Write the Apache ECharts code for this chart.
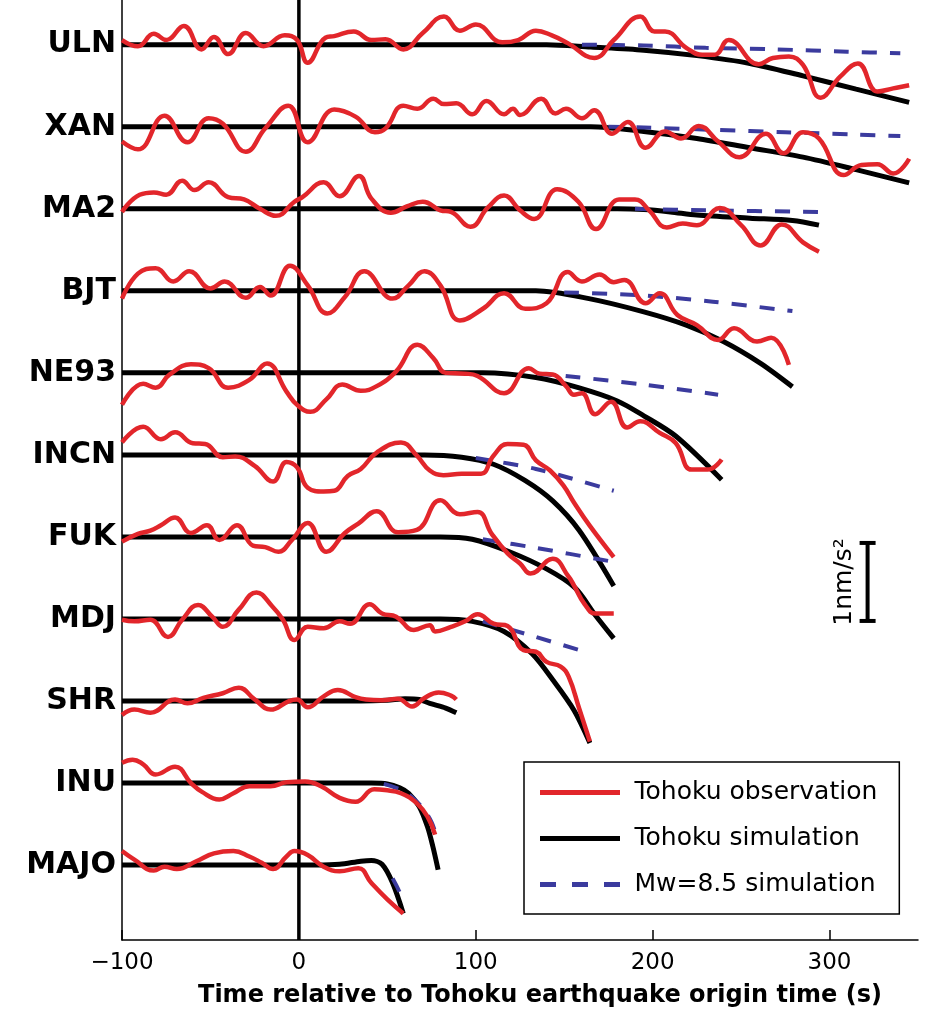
<!DOCTYPE html>
<html>
<head>
<meta charset="utf-8">
<script src="https://cdn.jsdelivr.net/npm/echarts@6/dist/echarts.min.js"></script>
<style>
  html, body { margin: 0; background: #fff; }
  #chart { width: 944px; height: 1016px; }
</style>
</head>
<body>
<div id="chart"></div>
<script>
// station order, top to bottom
const stations = ['ULN', 'XAN', 'MA2', 'BJT', 'NE93', 'INCN', 'FUK', 'MDJ', 'SHR', 'INU', 'MAJO']

// [time (s), acceleration (nm/s^2)] relative to each station's baseline
const ULN_obs = [[-100,0.06],[-91,-0.02],[-82,0.14],[-75,0.06],[-65,0.24],[-55,-0.06],[-48,0.1],[-40,-0.12],[-30,0.15],[-20,-0.02],[-8,0.12],[-1,0.06],[5,-0.23],[15,0.09],[20,0.11],[31,0.17],[41,0.06],[49,0.07],[59,-0.06],[70,0.15],[82,0.36],[91,0.18],[100,0.26],[115,0.03],[124,0.06],[134,0.18],[143,0.12],[152,0.02],[167,-0.17],[178,0.06],[193,0.36],[201,0.17],[207,0.17],[219,-0.04],[228,-0.13],[235,-0.13],[243,0.06],[260,-0.25],[268,-0.17],[277,-0.15],[285,-0.26],[295,-0.68],[306,-0.41],[316,-0.24],[327,-0.6],[336,-0.56],[345,-0.52]]
const ULN_sim = [[-100,0],[110,0],[140,0],[165,-0.03],[195,-0.07],[225,-0.14],[255,-0.24],[285,-0.4],[315,-0.57],[345,-0.74]]
const ULN_mw = [[160,0],[195,-0.01],[230,-0.04],[270,-0.06],[310,-0.09],[340,-0.11]]

const XAN_obs = [[-100,-0.19],[-91,-0.29],[-76,0.14],[-63,-0.2],[-51,0.11],[-43,0.04],[-30,-0.32],[-19,-0.02],[-6,0.27],[5,-0.2],[20,0.22],[32,0.13],[43,-0.07],[49,-0.02],[59,0.27],[67,0.23],[76,0.36],[82,0.29],[89,0.3],[98,0.16],[106,0.33],[116,0.16],[121,0.23],[125,0.15],[137,0.36],[145,0.17],[151,0.23],[160,0.11],[167,0.21],[177,-0.09],[186,0.06],[196,-0.27],[207,-0.06],[216,-0.15],[226,0.01],[237,-0.19],[249,-0.39],[264,-0.09],[274,-0.34],[285,-0.07],[294,-0.15],[308,-0.62],[318,-0.49],[327,-0.48],[336,-0.6],[345,-0.41]]
const XAN_sim = [[-100,0],[135,0],[165,0],[195,-0.06],[225,-0.15],[255,-0.27],[285,-0.39],[315,-0.55],[345,-0.72]]
const XAN_mw = [[175,0],[195,-0.01],[235,-0.04],[275,-0.07],[315,-0.1],[340,-0.12]]

const MA2_obs = [[-100,-0.04],[-90,0.18],[-82,0.21],[-75,0.18],[-66,0.36],[-59,0.24],[-51,0.34],[-40,0.15],[-31,0.12],[-22,0],[-13,-0.09],[-2.5,0.09],[2,0.15],[14,0.34],[23,0.16],[34,0.42],[41,0.13],[52,-0.05],[61,0.03],[70,0.09],[80,-0.02],[86,-0.04],[97,-0.23],[107,0.02],[116,0.17],[125,-0.02],[133,-0.13],[146,0.25],[158,0.09],[168,-0.26],[181,0.12],[190,0.12],[198,-0.02],[208,-0.24],[217,-0.19],[225,-0.21],[238,0.01],[250,-0.21],[261,-0.47],[273,-0.2],[285,-0.43],[294,-0.55]]
const MA2_sim = [[-100,0],[150,0],[180,0],[195,-0.01],[210,-0.04],[225,-0.08],[255,-0.12],[279,-0.15],[294,-0.21]]
const MA2_mw = [[190,0],[230,-0.02],[294,-0.04]]

const BJT_obs = [[-100,-0.1],[-91,0.22],[-81,0.29],[-71,0.12],[-62,0.25],[-50,0.03],[-42,0.12],[-30,-0.09],[-22,0.05],[-16,-0.06],[-5,0.32],[5,0.07],[16,-0.29],[26,-0.08],[37,0.25],[53,-0.1],[62,0.07],[71,0.25],[80,0.07],[91,-0.38],[104,-0.23],[116,-0.03],[128,-0.23],[140,-0.16],[152,0.24],[160,0.12],[170,0.21],[178,0.11],[184,0.14],[196,-0.16],[204,-0.03],[214,-0.31],[225,-0.44],[237,-0.63],[246,-0.48],[259,-0.65],[267,-0.6],[277,-0.95]]
const BJT_sim = [[-100,0],[110,0],[134,0],[164,-0.1],[195,-0.27],[219,-0.44],[240,-0.65],[261,-0.93],[279,-1.23]]
const BJT_mw = [[150,-0.02],[195,-0.06],[234,-0.14],[279,-0.26]]

const NE93_obs = [[-100,-0.41],[-88,-0.14],[-81,-0.19],[-73,-0.02],[-61,0.11],[-51,0.06],[-40,-0.19],[-28,-0.09],[-18,0.12],[-7,-0.24],[-1,-0.41],[6.5,-0.5],[15.5,-0.34],[24.5,-0.15],[35,-0.23],[44,-0.17],[55,0.02],[67,0.36],[76,0.19],[83,0],[94,-0.01],[101,-0.04],[116,-0.26],[130,0.06],[136,-0.01],[143.5,-0.02],[151,-0.17],[155.5,-0.28],[160,-0.26],[167.5,-0.53],[176.5,-0.37],[185.5,-0.7],[193,-0.62],[204,-0.77],[213,-0.9],[222,-1.24],[231,-1.24],[239,-1.11]]
const NE93_sim = [[-100,0],[80,0],[104,0],[134,-0.06],[158,-0.19],[180,-0.36],[195,-0.55],[213,-0.81],[239,-1.37]]
const NE93_mw = [[135,-0.01],[155,-0.05],[195,-0.15],[237,-0.28]]

const INCN_obs = [[-100,0.16],[-88,0.36],[-78,0.2],[-70,0.29],[-60,0.15],[-53,0.14],[-43,-0.03],[-36,-0.02],[-25,-0.14],[-14.6,-0.34],[-7,-0.09],[-1,-0.16],[5,-0.42],[14,-0.47],[20,-0.46],[27.6,-0.27],[35,-0.18],[44,0.03],[57.7,0.16],[66.7,-0.01],[74,-0.2],[81.7,-0.26],[92,-0.24],[103,-0.24],[110,-0.01],[118,0.14],[127,0.13],[134,-0.07],[142,-0.2],[149.5,-0.39],[155.5,-0.61],[164.5,-0.91],[178,-1.31]]
const INCN_sim = [[-100,0],[50,0],[71,0],[92,-0.03],[110,-0.12],[128,-0.33],[143.5,-0.59],[158.5,-0.97],[178,-1.68]]
const INCN_mw = [[100,-0.04],[134,-0.18],[178,-0.46]]

const FUK_obs = [[-100,-0.06],[-91,0.04],[-84,0.08],[-78,0.15],[-70,0.25],[-61,0.05],[-52,0.15],[-45,-0.04],[-35,0.15],[-26,-0.11],[-19,-0.13],[-11.6,-0.19],[-4,-0.04],[5,0.18],[15.5,-0.19],[26,0.05],[33.6,0.17],[44,0.33],[56,0.06],[66.7,0.09],[80,0.47],[91,0.29],[101,0.32],[109,0.04],[118,-0.21],[125,-0.34],[131,-0.47],[143.5,-0.28],[152.5,-0.51],[155.5,-0.62],[161.5,-0.86],[167.5,-0.98],[178,-0.98]]
const FUK_sim = [[-100,0],[60,0],[80,0],[98,-0.03],[119,-0.19],[140,-0.41],[156,-0.65],[167.5,-1.0],[178,-1.3]]
const FUK_mw = [[104,-0.03],[134,-0.14],[178,-0.32]]

const MDJ_obs = [[-100,-0.01],[-93,-0.03],[-84,-0.01],[-74,-0.23],[-66,-0.01],[-57,0.18],[-49,0.03],[-43,-0.1],[-34,0.12],[-24,0.34],[-15,0.16],[-9,-0.01],[-2.5,-0.27],[5,-0.1],[14,-0.12],[23,-0.03],[29,-0.06],[40,0.19],[47,0.07],[55,0.03],[65,-0.14],[74,-0.08],[77,-0.16],[86,-0.1],[94,-0.03],[101,0.06],[110,-0.06],[118,-0.09],[127,-0.4],[134,-0.42],[140,-0.55],[148,-0.61],[152.5,-0.74],[158.5,-1.15],[164.5,-1.57]]
const MDJ_sim = [[-100,0],[60,0],[80,0],[98,-0.03],[116,-0.16],[132,-0.45],[143.5,-0.78],[155.5,-1.17],[164.5,-1.59]]
const MDJ_mw = [[104,-0.03],[134,-0.23],[161.5,-0.42]]

const SHR_obs = [[-100,-0.18],[-93,-0.11],[-84,-0.15],[-70,0.02],[-63,-0.03],[-54,0.04],[-43,0.1],[-34,0.17],[-25,0.02],[-16,-0.11],[-5.6,0],[-1,0.02],[5,-0.08],[14,0.06],[22,0.14],[32,0.05],[38,0.02],[47,0.01],[56,0.03],[64,-0.07],[71,0.04],[79,0.11],[86,0.07],[89,0.02]]
const SHR_sim = [[-100,0],[35,0],[50,0.01],[60,0.03],[68,0.02],[74,-0.03],[83,-0.09],[89,-0.15]]
const SHR_mw = []

const INU_obs = [[-100,0.26],[-94,0.3],[-88,0.24],[-81,0.11],[-70,0.21],[-61,0],[-55,-0.11],[-45,-0.21],[-37,-0.13],[-28,-0.04],[-16,-0.04],[-7,0.01],[3.5,0.02],[12.5,-0.04],[23,-0.19],[32,-0.24],[42.6,-0.08],[48.6,-0.09],[57.7,-0.13],[66.7,-0.26],[72.7,-0.43],[77,-0.66]]
const INU_sim = [[-100,0],[25,0],[41,0],[50,-0.01],[57,-0.06],[62,-0.13],[68,-0.3],[72.7,-0.56],[75.7,-0.81],[78.7,-1.11]]
const INU_mw = [[48,-0.01],[57,-0.08],[65,-0.2],[71,-0.35],[75,-0.5],[77,-0.62]]

const MAJO_obs = [[-100,0.18],[-93,0.07],[-82,-0.07],[-76,-0.02],[-69,-0.05],[-58,0.05],[-48,0.15],[-37,0.18],[-28,0.11],[-21,0.03],[-14.6,-0.05],[-7,0.11],[-2.5,0.18],[5,0.13],[14,-0.02],[23,-0.08],[33.6,-0.04],[41,-0.23],[50,-0.44],[59,-0.62]]
const MAJO_sim = [[-100,0],[10,0],[23,0.01],[35,0.05],[41,0.06],[47,0.01],[53,-0.23],[59,-0.62]]
const MAJO_mw = [[53,-0.17],[56,-0.3],[59,-0.45]]

const observed = [ULN_obs, XAN_obs, MA2_obs, BJT_obs, NE93_obs, INCN_obs, FUK_obs, MDJ_obs, SHR_obs, INU_obs, MAJO_obs]
const simulated = [ULN_sim, XAN_sim, MA2_sim, BJT_sim, NE93_sim, INCN_sim, FUK_sim, MDJ_sim, SHR_sim, INU_sim, MAJO_sim]
const mw85 = [ULN_mw, XAN_mw, MA2_mw, BJT_mw, NE93_mw, INCN_mw, FUK_mw, MDJ_mw, SHR_mw, INU_mw, MAJO_mw]

const xTicks = [-100, 0, 100, 200, 300]
const scaleBar = [[321.5, 3.13], [321.5, 4.13]]  // 1 nm/s^2

const STEP = 1.0517   // vertical spacing between traces
const Y_MIN = -0.96
const Y_MAX = 11.09

const RED = '#e2262b'
const BLUE = '#3b3b9e'
const FONT = 'DejaVu Sans'

const chart = echarts.init(document.getElementById('chart'))

const series = []
stations.forEach((name, i) => {
  const base = (stations.length - 1 - i) * STEP
  const shift = (arr) => arr.map(([t, a]) => [t, base + a])
  series.push({
    name: 'Tohoku simulation', type: 'line', data: shift(simulated[i]),
    symbol: 'none', smooth: 0.3, z: 3,
    lineStyle: { color: '#000', width: 5 }, itemStyle: { color: '#000' },
  })
  series.push({
    name: 'Mw=8.5 simulation', type: 'line', data: shift(mw85[i]),
    symbol: 'none', smooth: 0.3, z: 4,
    lineStyle: { color: BLUE, width: 4, type: [15, 13] }, itemStyle: { color: BLUE },
  })
  series.push({
    name: 'Tohoku observation', type: 'line', data: shift(observed[i]),
    symbol: 'none', smooth: 0.45, z: 5,
    lineStyle: { color: RED, width: 4.5 }, itemStyle: { color: RED },
  })
})

// origin time marker
series.push({
  type: 'line', data: [[0, Y_MIN], [0, Y_MAX]], symbol: 'none', silent: true, z: 2,
  lineStyle: { color: '#000', width: 3.5 },
})

// station names
series.push({
  type: 'scatter', symbolSize: 0, silent: true, z: 6,
  itemStyle: { opacity: 1 },
  data: stations.map((n, i) => ({ name: n, value: [-100, (stations.length - 1 - i) * STEP] })),
  label: {
    show: true, position: 'left', distance: 6, formatter: '{b}', opacity: 1,
    fontFamily: FONT, fontWeight: 'bold', fontSize: 30, color: '#000',
  },
})

// scale bar
series.push({
  type: 'line', data: scaleBar, symbol: 'rect', symbolSize: [16, 4], showSymbol: true,
  silent: true, z: 6, lineStyle: { color: '#000', width: 4 }, itemStyle: { color: '#000' },
})
series.push({
  type: 'scatter', symbolSize: 0, silent: true, z: 6,
  itemStyle: { opacity: 1 },
  data: [{ name: '1nm/s²', value: [308.5, (scaleBar[0][1] + scaleBar[1][1]) / 2] }],
  label: {
    show: true, position: 'inside', rotate: 90, formatter: '{b}', opacity: 1,
    fontFamily: FONT, fontSize: 25, color: '#000',
  },
})

const solidIcon = 'path://M0,0H80V5H0Z'
const dashIcon = 'path://M0,0H16V5H0Z M32,0H48V5H32Z M64,0H80V5H64Z'

chart.setOption({
  animation: false,
  backgroundColor: '#fff',
  grid: { left: 122, right: 26, top: 0, bottom: 76 },
  xAxis: {
    type: 'value', min: -100, max: 350, interval: 100,
    axisLine: { show: true, onZero: false, lineStyle: { color: '#000', width: 1.5 } },
    axisTick: { show: true, inside: true, length: 10, lineStyle: { color: '#000', width: 1.5 } },
    splitLine: { show: false },
    axisLabel: {
      margin: 12, fontFamily: FONT, fontSize: 23, color: '#000', showMaxLabel: false,
      formatter: (v) => (xTicks.includes(v) ? String(v).replace('-', '\u2212') : ''),
    },
    name: 'Time relative to Tohoku earthquake origin time (s)',
    nameLocation: 'middle', nameGap: 44,
    nameTextStyle: { fontFamily: FONT, fontWeight: 'bold', fontSize: 24, color: '#000', padding: [0, 0, 0, 40] },
  },
  yAxis: {
    type: 'value', min: Y_MIN, max: Y_MAX,
    axisLine: { show: true, onZero: false, lineStyle: { color: '#000', width: 1.5 } },
    axisTick: { show: false }, axisLabel: { show: false }, splitLine: { show: false },
  },
  legend: {
    data: [
      { name: 'Tohoku observation', icon: solidIcon },
      { name: 'Tohoku simulation', icon: solidIcon },
      { name: 'Mw=8.5 simulation', icon: dashIcon },
    ],
    orient: 'vertical', left: 524, top: 762,
    itemWidth: 85, itemHeight: 5, itemGap: 19,
    padding: [17, 22, 16, 16],
    borderColor: '#000', borderWidth: 1.5, backgroundColor: '#fff',
    textStyle: { fontFamily: FONT, fontSize: 25, lineHeight: 27, color: '#000', padding: [0, 0, 0, 7] },
    selectedMode: false,
  },
  series,
})
</script>
</body>
</html>
